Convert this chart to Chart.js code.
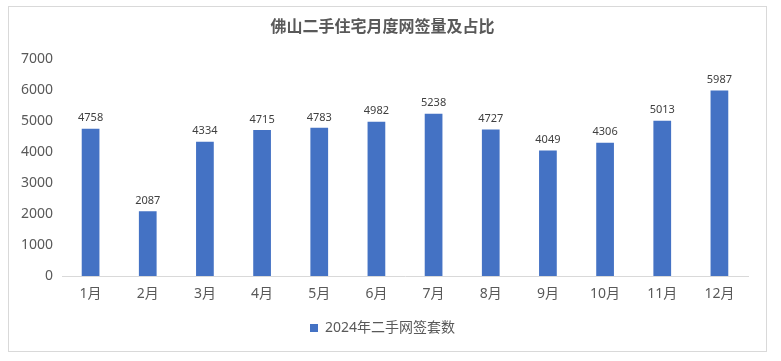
<!DOCTYPE html>
<html>
<head>
<meta charset="utf-8">
<script src="https://cdn.jsdelivr.net/npm/chart.js@4/dist/chart.umd.min.js"></script>
<style>
  html, body { margin: 0; padding: 0; background: #fff; }
  #wrap {
    position: absolute; left: 8px; top: 6px;
    width: 757px; height: 344px;
    border: 1px solid #d9d9d9;
    background: #fff;
  }
</style>
</head>
<body>
<div id="wrap"><canvas id="c" width="757" height="344"></canvas></div>
<script>
// chart data
const months = ['1月', '2月', '3月', '4月', '5月', '6月', '7月', '8月', '9月', '10月', '11月', '12月'];
const deals2024 = [4758, 2087, 4334, 4715, 4783, 4982, 5238, 4727, 4049, 4306, 5013, 5987];
const seriesName = '2024年二手网签套数';
const chartTitle = '佛山二手住宅月度网签量及占比';

const FONT = '"Noto Sans", "Noto Sans CJK SC", sans-serif';
const barColor = '#4472C4';
const textGrey = '#595959';

// simple value labels above each bar
const valueLabels = {
  id: 'valueLabels',
  afterDatasetsDraw(chart) {
    const ctx = chart.ctx;
    ctx.save();
    ctx.font = '11px ' + FONT;
    ctx.fillStyle = '#404040';
    ctx.textAlign = 'center';
    ctx.textBaseline = 'bottom';
    chart.getDatasetMeta(0).data.forEach((bar, i) => {
      ctx.fillText(String(deals2024[i]), bar.x, bar.y - 5);
    });
    ctx.restore();
  }
};

new Chart(document.getElementById('c'), {
  type: 'bar',
  data: {
    labels: months,
    datasets: [{
      label: seriesName,
      data: deals2024,
      backgroundColor: barColor,
      borderWidth: 0,
      categoryPercentage: 1,
      barPercentage: 0.31
    }]
  },
  options: {
    responsive: false,
    animation: false,
    devicePixelRatio: 1,
    layout: { padding: { left: 8, right: 18, top: 0, bottom: 6 } },
    plugins: {
      title: {
        display: true,
        text: chartTitle,
        color: textGrey,
        font: { family: FONT, size: 16, weight: 'bold' },
        padding: { top: 11, bottom: 22 }
      },
      legend: {
        position: 'bottom',
        labels: {
          color: textGrey,
          font: { family: FONT, size: 14 },
          boxWidth: 8,
          boxHeight: 8,
          padding: 9
        }
      },
      tooltip: { enabled: false }
    },
    scales: {
      x: {
        grid: { display: false, drawTicks: false },
        border: { display: true, color: '#d9d9d9', width: 1 },
        ticks: { color: textGrey, font: { family: FONT, size: 14 }, padding: 10 },
        afterFit: s => { s.height = 36; }
      },
      y: {
        min: 0,
        max: 7000,
        grid: { display: false, drawTicks: false },
        border: { display: false },
        ticks: {
          stepSize: 1000,
          color: textGrey,
          font: { family: FONT, size: 14 },
          padding: 9,
          callback: v => String(v)
        },
        afterFit: s => { s.width = 45; }
      }
    }
  },
  plugins: [valueLabels]
});
</script>
</body>
</html>
